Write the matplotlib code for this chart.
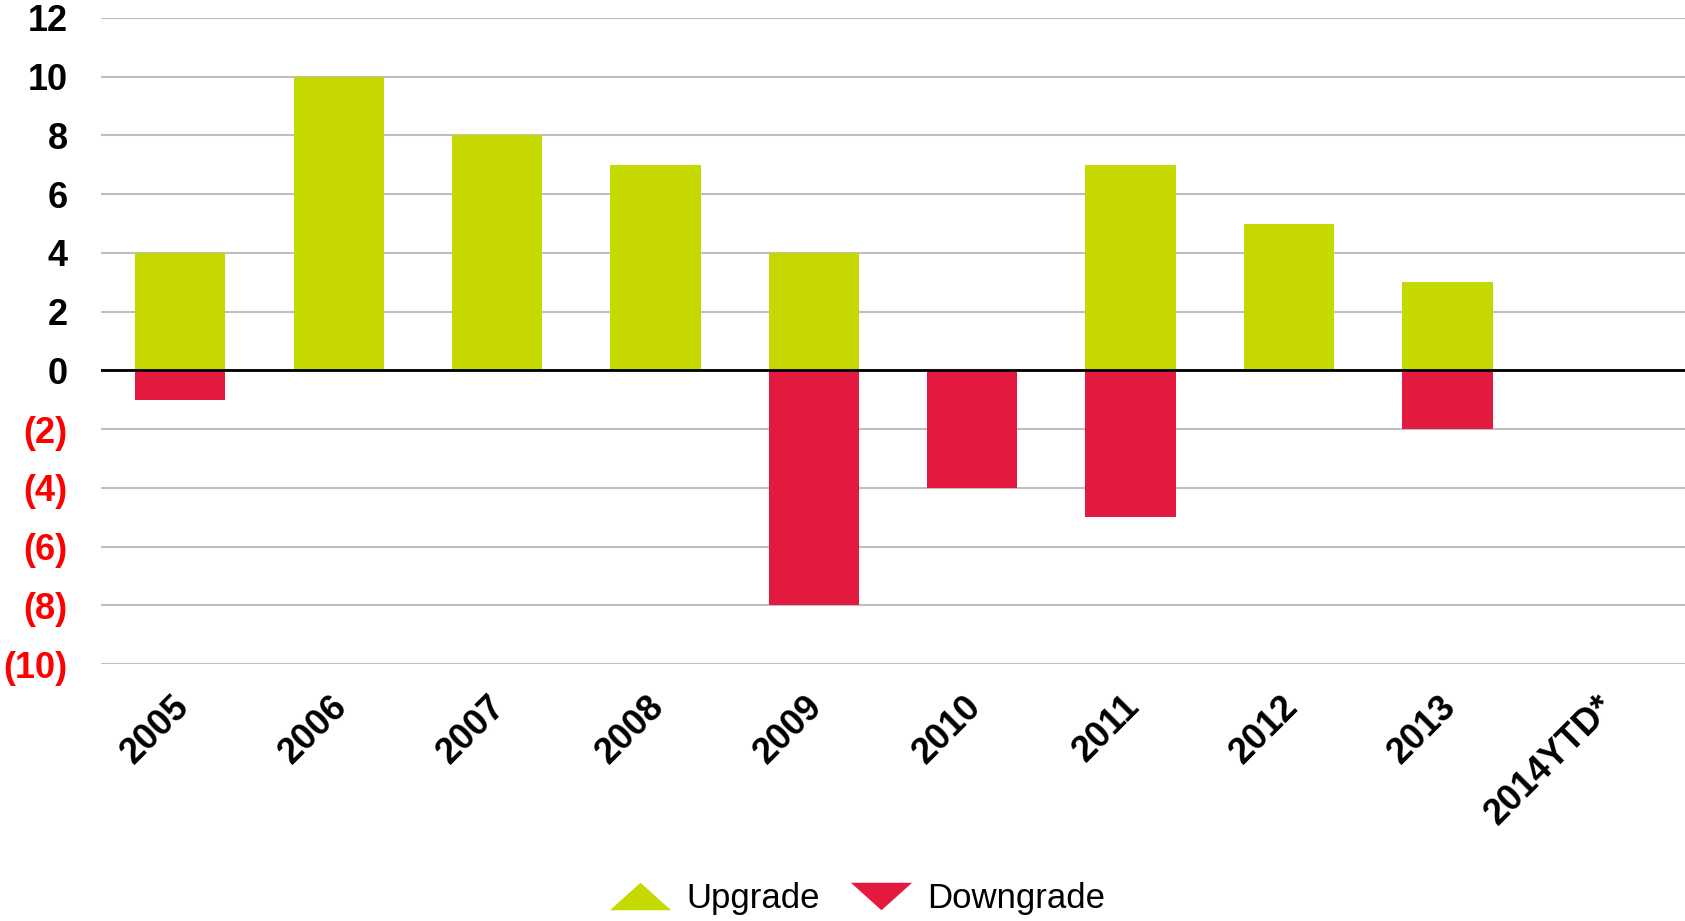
import numpy as np
import matplotlib.pyplot as plt
import matplotlib.transforms as mtransforms
from matplotlib.lines import Line2D

plt.rc('font', family=['Liberation Sans', 'DejaVu Sans'])

years = ['2005', '2006', '2007', '2008', '2009', '2010', '2011', '2012', '2013', '2014YTD*']
upgrades = [4, 10, 8, 7, 4, 0, 7, 5, 3, 0]
downgrades = [-1, 0, 0, 0, -8, -4, -5, 0, -2, 0]
yticks = [12, 10, 8, 6, 4, 2, 0, -2, -4, -6, -8, -10]

green = '#C5D900'
red = '#E3193F'

fig = plt.figure(figsize=(16.85, 9.21), dpi=100)
ax = fig.add_axes([0.06, 0.279, 0.94, 0.7015])

x = np.arange(len(years))
ax.bar(x, upgrades, width=0.57, color=green, zorder=2)
ax.bar(x, downgrades, width=0.57, color=red, zorder=2)

ax.set_ylim(-10, 12)
ax.set_xlim(-0.5, len(years) - 0.5)
ax.set_yticks(yticks)
labels = [str(v) if v >= 0 else '(%d)' % -v for v in yticks]
ax.set_yticklabels(labels, fontsize=26, fontweight='bold')
for t, v in zip(ax.get_yticklabels(), yticks):
    t.set_color('black' if v >= 0 else '#FF0000')

ax.set_xticks(x)
ax.set_xticklabels(years, fontsize=26, fontweight='bold', rotation=45,
                   ha='right', va='top', rotation_mode='anchor')
ax.tick_params(axis='y', length=0, pad=24)
ax.tick_params(axis='x', length=0, pad=18)
shift = mtransforms.ScaledTranslation(-9 / 100, 0, fig.dpi_scale_trans)
for lab in ax.get_xticklabels():
    lab.set_transform(lab.get_transform() + shift)

ax.grid(axis='y', color='#BFBFBF', linewidth=1.5, zorder=0)
ax.axhline(0, color='black', linewidth=2, zorder=3)
for s in ax.spines.values():
    s.set_visible(False)

up_tri = [(-1, -0.45), (1, -0.45), (0, 0.45)]
down_tri = [(-1, 0.45), (1, 0.45), (0, -0.45)]
handles = [Line2D([], [], linestyle='none', marker=up_tri, markersize=44,
                  markerfacecolor=green, markeredgecolor='none'),
           Line2D([], [], linestyle='none', marker=down_tri, markersize=44,
                  markerfacecolor=red, markeredgecolor='none')]
fig.legend(handles, ['Upgrade', 'Downgrade'], loc='center',
           bbox_to_anchor=(0.509, 0.024), ncol=2, frameon=False, fontsize=25,
           handlelength=1.75, handletextpad=0.45, columnspacing=0.9)

fig.savefig('out.png', dpi=100)
